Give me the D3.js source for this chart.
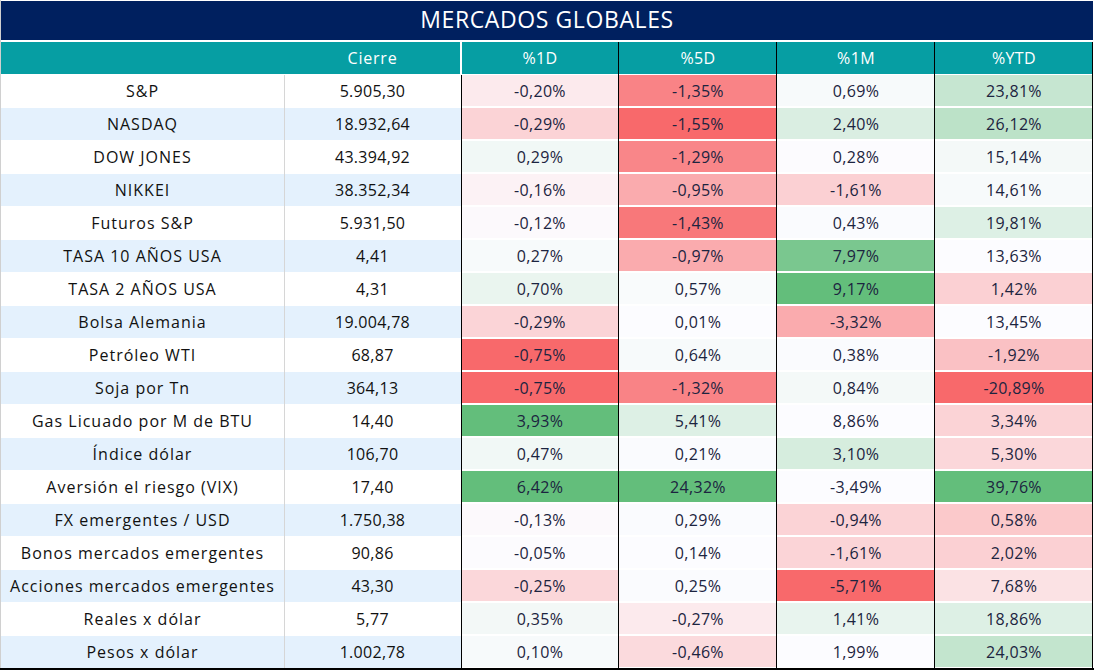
<!DOCTYPE html>
<html><head><meta charset="utf-8">
<script src="https://cdn.jsdelivr.net/npm/d3@7"></script>
<style>html,body{margin:0;padding:0;background:#fff;}svg{display:block;}</style>
</head><body>
<svg id="chart" width="1094" height="670"></svg>
<script>
const title = "MERCADOS GLOBALES";
const headers = ["", "Cierre", "%1D", "%5D", "%1M", "%YTD"];
const pctCols = ["%1D", "%5D", "%1M", "%YTD"];
const labels = ["S&P","NASDAQ","DOW JONES","NIKKEI","Futuros S&P","TASA 10 AÑOS USA","TASA 2 AÑOS USA","Bolsa Alemania","Petróleo WTI","Soja por Tn","Gas Licuado por M de BTU","Índice dólar","Aversión el riesgo (VIX)","FX emergentes / USD","Bonos mercados emergentes","Acciones mercados emergentes","Reales x dólar","Pesos x dólar"];
const cierre = ["5.905,30","18.932,64","43.394,92","38.352,34","5.931,50","4,41","4,31","19.004,78","68,87","364,13","14,40","106,70","17,40","1.750,38","90,86","43,30","5,77","1.002,78"];
const pct1D = ["-0,20%","-0,29%","0,29%","-0,16%","-0,12%","0,27%","0,70%","-0,29%","-0,75%","-0,75%","3,93%","0,47%","6,42%","-0,13%","-0,05%","-0,25%","0,35%","0,10%"];
const pct5D = ["-1,35%","-1,55%","-1,29%","-0,95%","-1,43%","-0,97%","0,57%","0,01%","0,64%","-1,32%","5,41%","0,21%","24,32%","0,29%","0,14%","0,25%","-0,27%","-0,46%"];
const pct1M = ["0,69%","2,40%","0,28%","-1,61%","0,43%","7,97%","9,17%","-3,32%","0,38%","0,84%","8,86%","3,10%","-3,49%","-0,94%","-1,61%","-5,71%","1,41%","1,99%"];
const pctYTD = ["23,81%","26,12%","15,14%","14,61%","19,81%","13,63%","1,42%","13,45%","-1,92%","-20,89%","3,34%","5,30%","39,76%","0,58%","2,02%","7,68%","18,86%","24,03%"];
// conditional-format shade as shown in the picture (-1 red .. 0 white .. 1 green)
const shade1D = [-0.12,-0.28,0.07,-0.07,-0.02,0.03,0.12,-0.27,-1,-1,1,0.07,1,-0.02,-0.01,-0.25,0.06,0.03];
const shade5D = [-0.82,-1,-0.8,-0.55,-0.9,-0.55,0.02,0,0.03,-0.82,0.2,0.01,1,0.01,0,0.01,-0.12,-0.23];
const shade1M = [0.03,0.22,-0.01,-0.3,0.01,0.85,1,-0.55,0.01,0.05,0,0.25,0,-0.28,-0.27,-1,0.13,0];
const shadeYTD = [0.35,0.42,0.05,0.03,0.2,0,-0.3,0,-0.4,-1,-0.28,-0.25,1,-0.35,-0.3,-0.18,0.2,0.37];

const pctData = [pct1D, pct5D, pct1M, pctYTD];
const shadeData = [shade1D, shade5D, shade1M, shadeYTD];

const svg = d3.select("#chart");
const font = "'Open Sans', sans-serif";
const color = d3.scaleLinear().domain([-1,0,1]).range(["#f8696b","#fcfcff","#63be7b"]);

const y = d3.scaleBand().domain(d3.range(labels.length)).range([74, 668]);
const xp = d3.scaleBand().domain(pctCols).range([461, 1093]);
const labelX = [1, 284], cierreX = [284, 461];

// title
svg.append("rect").attr("x",1).attr("y",1).attr("width",1092).attr("height",39).attr("fill","#00205f");
svg.append("text").attr("x",547).attr("y",20).attr("dy","0.36em").attr("text-anchor","middle")
  .attr("fill","#fff").style("font-family",font).style("font-size","23px").style("letter-spacing","0.6px").text(title);

// header
svg.append("rect").attr("x",1).attr("y",42).attr("width",459).attr("height",32).attr("fill","#069ea3");
svg.append("rect").attr("x",462).attr("y",42).attr("width",631).attr("height",32).attr("fill","#069ea3");
svg.append("text").attr("x",(cierreX[0]+cierreX[1])/2).attr("y",58).attr("dy","0.36em").attr("text-anchor","middle")
  .attr("fill","#fff").style("font-family",font).style("font-size","16px").style("letter-spacing","0.8px").text(headers[1]);
pctCols.forEach(c => {
  svg.append("text").attr("x",xp(c)+xp.bandwidth()/2).attr("y",58).attr("dy","0.36em").attr("text-anchor","middle")
    .attr("fill","#fff").style("font-family",font).style("font-size","16px").style("letter-spacing","0.4px").text(c);
});

// rows
labels.forEach((lab,i) => {
  const bg = i % 2 === 0 ? "#ffffff" : "#e4f1fd";
  svg.append("rect").attr("x",1).attr("y",y(i)+1).attr("width",460).attr("height",y.bandwidth()-1).attr("fill",bg);
  svg.append("text").attr("x",(labelX[0]+labelX[1])/2).attr("y",y(i)+y.bandwidth()/2+1).attr("dy","0.36em")
    .attr("text-anchor","middle").attr("fill","#111").style("font-family",font).style("font-size","16px").style("letter-spacing","1px").text(lab);
  svg.append("text").attr("x",(cierreX[0]+cierreX[1])/2).attr("y",y(i)+y.bandwidth()/2+1).attr("dy","0.36em")
    .attr("text-anchor","middle").attr("fill","#111").style("font-family",font).style("font-size","16px").style("font-weight","500").style("letter-spacing","0.3px").text(cierre[i]);
  pctCols.forEach((c,j) => {
    svg.append("rect").attr("x",xp(c)).attr("y",y(i)+1).attr("width",xp.bandwidth()).attr("height",y.bandwidth()-2)
      .attr("fill",color(shadeData[j][i]));
    svg.append("text").attr("x",xp(c)+xp.bandwidth()/2).attr("y",y(i)+y.bandwidth()/2+1).attr("dy","0.36em")
      .attr("text-anchor","middle").attr("fill","#1c2440").style("font-family",font).style("font-size","16px").style("letter-spacing","0.3px").text(pctData[j][i]);
  });
});

// grid lines
svg.append("line").attr("x1",0.5).attr("x2",0.5).attr("y1",0).attr("y2",668).attr("stroke","#d0d0d0");
svg.append("line").attr("x1",284.5).attr("x2",284.5).attr("y1",75).attr("y2",668).attr("stroke","#d6d6d6");
svg.append("line").attr("x1",461.5).attr("x2",461.5).attr("y1",75).attr("y2",668).attr("stroke","#000");
pctCols.forEach(c => {
  const xx = xp(c)+xp.bandwidth()-0.5;
  svg.append("line").attr("x1",xx).attr("x2",xx).attr("y1",42).attr("y2",668).attr("stroke","#000");
});
svg.append("rect").attr("x",0).attr("y",668).attr("width",1094).attr("height",2).attr("fill","#000");
</script>
</body></html>
